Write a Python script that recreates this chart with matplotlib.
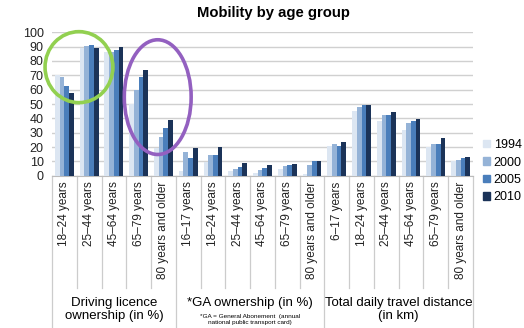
import numpy as np
import matplotlib
matplotlib.use('Agg')
import matplotlib.pyplot as plt
from matplotlib.patches import Ellipse, Patch
from matplotlib.transforms import blended_transform_factory

plt.rcParams['font.family'] = ['Liberation Sans', 'DejaVu Sans']

# categories (three blocks)
categories = ['18–24 years', '25–44 years', '45–64 years', '65–79 years', '80 years and older',
              '16–17 years', '18–24 years', '25–44 years', '45–64 years', '65–79 years', '80 years and older',
              '6–17 years', '18–24 years', '25–44 years', '45–64 years', '65–79 years', '80 years and older']
block_sizes = [5, 6, 6]
block_titles = ['Driving licence\nownership (in %)', '*GA ownership (in %)',
                'Total daily travel distance\n(in km)']
ga_note = '*GA = General Abonement  (annual\nnational public transport card)'

years = ['1994', '2000', '2005', '2010']
v1994 = [70, 89, 86, 50, 19, 3.5, 9.5, 3, 1.8, 4.6, 1.4, 21, 45, 38, 32, 20, 10]
v2000 = [68.5, 90.5, 86, 60, 27, 16.5, 14.5, 4.6, 3.7, 6.5, 7.5, 22, 48, 42.5, 37, 22, 11]
v2005 = [62.5, 91, 88, 68.5, 33.5, 12.3, 14.5, 5.8, 5.3, 7.2, 10, 21, 49, 42.5, 38, 22, 12.3]
v2010 = [58, 89, 89.5, 74, 39, 19, 19.7, 8.8, 7.4, 8.4, 10, 23.5, 49, 44.5, 39.5, 26, 13]
series = [v1994, v2000, v2005, v2010]
colors = ['#dce6f2', '#95b3d7', '#4a7ebb', '#1b3358']

fig = plt.figure(figsize=(5.24, 3.28), dpi=100)
ax = fig.add_axes([0.0992, 0.4643, 0.8034, 0.4372])

x = np.arange(len(categories))
w = 0.19
for i, (vals, c) in enumerate(zip(series, colors)):
    ax.bar(x + (i - 1.5) * w, vals, width=w, color=c, zorder=3)

ax.set_xlim(-0.5, len(categories) - 0.5)
ax.set_ylim(0, 100)
ax.set_yticks(range(0, 101, 10))
ax.yaxis.grid(True, color='#d0d0d0', linewidth=1, zorder=0)
ax.tick_params(axis='y', length=0, labelsize=9, pad=6, colors='#222222')
ax.set_xticks(x)
ax.set_xticklabels(categories, rotation=90, fontsize=8.5, va='top', color='#222222')
ax.tick_params(axis='x', length=0, pad=4)
for s in ['top', 'right', 'left']:
    ax.spines[s].set_visible(False)
ax.spines['bottom'].set_color('#bbbbbb')

# label box separators
tr = blended_transform_factory(ax.transData, ax.transAxes)
bounds = np.cumsum([0] + block_sizes) - 0.5
for k in range(len(categories) + 1):
    xs = k - 0.5
    y_end = -1.06 if xs in bounds else -0.78
    ax.plot([xs, xs], [0, y_end], color='#cccccc', lw=0.9, transform=tr, clip_on=False)

starts = bounds[:-1]
for b, (s0, n) in enumerate(zip(starts, block_sizes)):
    cx = s0 + n / 2
    if b == 1:
        ax.text(cx, -0.888, block_titles[b], transform=tr, ha='center', va='center', fontsize=9.5)
        ax.text(cx, -1.005, ga_note, transform=tr, ha='center', va='center', fontsize=4.6,
                linespacing=1.3)
    else:
        ax.text(cx, -0.935, block_titles[b], transform=tr, ha='center', va='center', fontsize=9.5,
                linespacing=1.15)

# highlight ellipses
ax.add_patch(Ellipse((0.59, 75.7), 2.74, 49.5, fill=False, edgecolor='#92d050', lw=2.6,
                     clip_on=False, zorder=5))
ax.add_patch(Ellipse((3.77, 54.8), 2.7, 80, fill=False, edgecolor='#9360c0', lw=2.6,
                     clip_on=False, zorder=5))

handles = [Patch(color=c) for c in colors]
fig.legend(handles, years, loc='upper left', bbox_to_anchor=(483 / 524, 1 - 139 / 328),
           frameon=False, fontsize=9, handlelength=0.55, handleheight=0.55, handletextpad=0.3,
           labelspacing=0.44, borderpad=0, borderaxespad=0)

fig.text(273 / 524, 1 - 17 / 328, 'Mobility by age group', ha='center', va='baseline',
         fontsize=10.7, fontweight='bold')

fig.savefig('out.png', dpi=100)
